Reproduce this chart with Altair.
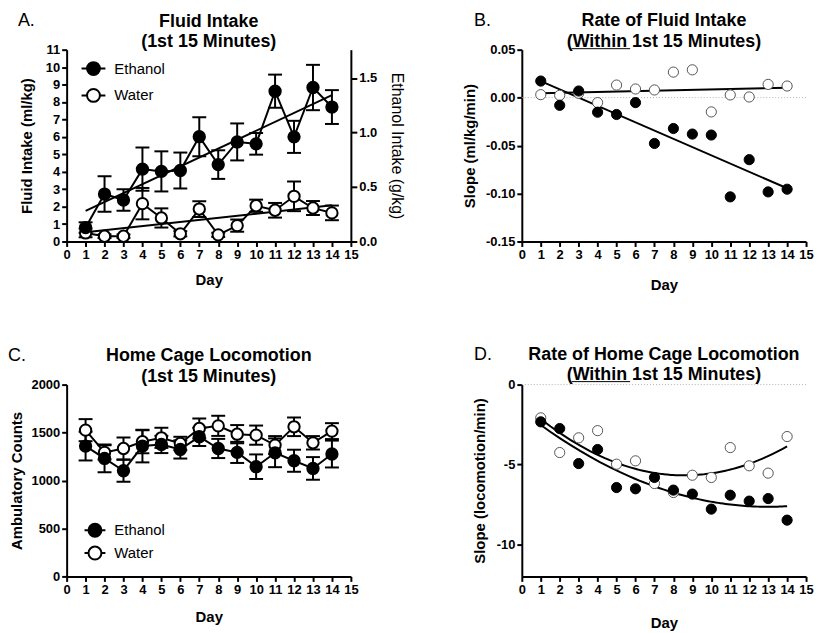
import altair as alt
import pandas as pd

FONT = "Liberation Sans"
W, H = 286, 193

days = list(range(1, 15))

# Panel A: fluid intake (ml/kg), mean and SEM
fi_eth = [0.80, 2.72, 2.38, 4.15, 4.02, 4.07, 6.01, 4.41, 5.71, 5.60, 8.62, 6.00, 8.83, 7.71]
fi_eth_sem = [0.30, 1.02, 0.62, 1.24, 1.15, 1.03, 1.12, 0.82, 1.06, 0.62, 0.95, 0.92, 1.30, 0.97]
fi_wat = [0.49, 0.30, 0.30, 2.17, 1.35, 0.44, 1.86, 0.38, 0.91, 2.05, 1.79, 2.59, 1.92, 1.64]
fi_wat_sem = [0.25, 0.10, 0.10, 0.90, 0.55, 0.15, 0.45, 0.12, 0.35, 0.35, 0.42, 0.85, 0.40, 0.42]

# Panel B: rate of fluid intake (slope, ml/kg/min)
rate_eth = [0.0173, -0.0080, 0.0069, -0.0152, -0.0176, -0.0052, -0.0478, -0.0322,
            -0.0380, -0.0390, -0.1035, -0.0647, -0.0983, -0.0955]
rate_wat = [0.0031, 0.0024, 0.0045, -0.0052, 0.0131, 0.0090, 0.0080, 0.0266,
            0.0290, -0.0149, 0.0028, 0.0007, 0.0138, 0.0121]

# Panel C: home cage locomotion (ambulatory counts), mean and SEM
loc_eth = [1359, 1230, 1102, 1359, 1376, 1324, 1456, 1334, 1293, 1144, 1289, 1206, 1126, 1276]
loc_eth_sem = [150, 145, 115, 170, 90, 95, 95, 100, 110, 128, 150, 115, 118, 140]
loc_wat = [1525, 1293, 1334, 1404, 1445, 1386, 1542, 1570, 1483, 1473, 1369, 1560, 1393, 1515]
loc_wat_sem = [115, 75, 115, 120, 105, 70, 105, 105, 95, 100, 94, 97, 70, 83]

# Panel D: rate of locomotion (slope, locomotion/min)
lr_eth = [-2.33, -2.75, -4.94, -4.06, -6.44, -6.52, -5.81, -6.60, -6.85, -7.79, -6.92, -7.29, -7.13, -8.48]
lr_wat = [-2.08, -4.25, -3.33, -2.88, -4.98, -4.77, -6.19, -6.75, -5.67, -5.81, -3.94, -5.08, -5.54, -3.25]

SERIES = ["Ethanol", "Water"]
ETOH_G_PER_ML = 0.16  # ml/kg of 20% ethanol -> g/kg (right axis of panel A)

titles = {
    "A": ["Fluid Intake", "(1st 15 Minutes)"],
    "B": ["Rate of Fluid Intake", "(Within 1st 15 Minutes)"],
    "C": ["Home Cage Locomotion", "(1st 15 Minutes)"],
    "D": ["Rate of Home Cage Locomotion", "(Within 1st 15 Minutes)"],
}


def long_df(ve, vw, se=None, sw=None):
    rows = []
    for s, v, sem in (("Water", vw, sw), ("Ethanol", ve, se)):
        for i, d in enumerate(days):
            r = {"day": d, "series": s, "val": v[i]}
            if sem is not None:
                r["lo"] = v[i] - sem[i]
                r["hi"] = v[i] + sem[i]
            rows.append(r)
    return pd.DataFrame(rows)


dfA = long_df(fi_eth, fi_wat, fi_eth_sem, fi_wat_sem)
dfB = long_df(rate_eth, rate_wat)
dfC = long_df(loc_eth, loc_wat, loc_eth_sem, loc_wat_sem)
dfD = long_df(lr_eth, lr_wat)


def leg_path(r):
    return (f"M-1,0L-{r},0M{r},0L1,0M-{r},0A{r},{r},0,1,1,{r},0"
            f"A{r},{r},0,1,1,-{r},0Z")


def make_xenc(tp):
    def xenc():
        return alt.X("day:Q", scale=alt.Scale(domain=[0, 15], nice=False),
                     axis=alt.Axis(values=list(range(16)), title="Day", labelFlush=False,
                                   titlePadding=tp))
    return xenc


def text_mark(t, dx, dy, bold=False, align="left"):
    return alt.Chart(alt.Data(values=[{"t": t}])).mark_text(
        align=align, baseline="middle", font=FONT, fontSize=18, color="black",
        fontWeight="bold" if bold else "normal"
    ).encode(x=alt.value(dx), y=alt.value(dy), text="t:N")


def header(key, letter_dx, letter_dy, l1_dy, l2_dy):
    t1, t2 = titles[key]
    return [text_mark(key + ".", letter_dx, letter_dy),
            text_mark(t1, W / 2, l1_dy, bold=True, align="center"),
            text_mark(t2, W / 2, l2_dy, bold=True, align="center")]


def underline(dx1, dx2, dy):
    return alt.Chart(alt.Data(values=[{"u": 1}])).mark_rule(
        color="black", strokeWidth=1
    ).encode(x=alt.value(dx1), x2=alt.value(dx2), y=alt.value(dy))


fill_scale = alt.Scale(domain=SERIES, range=["black", "white"])


def legend(lx, ly, rowpad, sym, r):
    return alt.Legend(title=None, orient="none", legendX=lx, legendY=ly,
                      symbolType=leg_path(r), symbolSize=sym * sym, symbolStrokeWidth=2,
                      symbolStrokeColor="black", labelFont=FONT, labelFontSize=15,
                      labelFontWeight="normal", labelColor="black", labelOffset=8,
                      rowPadding=rowpad, padding=0)


def mean_sem_panel(df, xenc, yscale, yaxis, ytitle, leg, extras, reg=False):
    def y(field):
        return alt.Y(field, scale=yscale, axis=yaxis, title=ytitle)
    base = alt.Chart(df)
    lines = base.mark_line(color="black", strokeWidth=2).encode(
        x=xenc(), y=y("val:Q"), detail="series:N")
    bars = base.mark_rule(color="black", strokeWidth=2).encode(
        x=xenc(), y=y("lo:Q"), y2="hi:Q")
    cap_lo = base.mark_tick(orient="horizontal", size=14, thickness=2, color="black",
                            opacity=1).encode(x=xenc(), y=y("lo:Q"))
    cap_hi = base.mark_tick(orient="horizontal", size=14, thickness=2, color="black",
                            opacity=1).encode(x=xenc(), y=y("hi:Q"))
    layers = [lines, bars, cap_lo, cap_hi]
    if reg:
        layers.append(base.transform_regression("day", "val", groupby=["series"],
                                                extent=[1, 14])
                      .mark_line(color="black", strokeWidth=2)
                      .encode(x=xenc(), y=y("val:Q"), detail="series:N"))
    pts = base.mark_point(shape="circle", filled=True, size=130, stroke="black",
                          strokeWidth=2, opacity=1).encode(
        x=xenc(), y=y("val:Q"),
        fill=alt.Fill("series:N", scale=fill_scale, legend=leg))
    layers.append(pts)
    layers.extend(extras)
    return alt.layer(*layers)


def slope_panel(df, xenc, yscale, yaxis, ytitle, method, extras):
    def y(field):
        return alt.Y(field, scale=yscale, axis=yaxis, title=ytitle)
    base = alt.Chart(df)
    zero = alt.Chart(alt.Data(values=[{"z": 0}])).mark_rule(
        color="#b0b0b0", strokeWidth=1, strokeDash=[1, 2]).encode(y=y("z:Q"))
    if method == "linear":
        rg = base.transform_regression("day", "val", groupby=["series"], extent=[1, 14])
    else:
        rg = base.transform_regression("day", "val", groupby=["series"], extent=[1, 14],
                                       method="poly", order=2)
    regl = rg.mark_line(color="black", strokeWidth=2).encode(
        x=xenc(), y=y("val:Q"), detail="series:N")
    pts = base.mark_point(shape="circle", filled=True, size=105, strokeWidth=1,
                          opacity=1).encode(
        x=xenc(), y=y("val:Q"),
        fill=alt.Fill("series:N", scale=fill_scale, legend=None),
        stroke=alt.Stroke("series:N", scale=alt.Scale(domain=SERIES,
                                                      range=["black", "#555555"]),
                          legend=None))
    return alt.layer(zero, regl, pts, *extras)


# ---- Panel A ----
xA = make_xenc(11)
inner_A = mean_sem_panel(
    dfA, xA, alt.Scale(domain=[0, 11], nice=False),
    alt.Axis(values=list(range(12)), titlePadding=11), "Fluid Intake (ml/kg)",
    legend(14, 6, 3, 24, 0.54), header("A", -49, -29, -28, -8), reg=True)
right_A = alt.Chart(dfA).transform_filter("datum.series == 'Ethanol'").transform_calculate(
    gkg=f"datum.val * {ETOH_G_PER_ML}").mark_point(opacity=0).encode(
    x=xA(),
    y=alt.Y("gkg:Q", scale=alt.Scale(domain=[0, 11 * ETOH_G_PER_ML], nice=False),
            axis=alt.Axis(orient="right", values=[0, 0.5, 1.0, 1.5], format=".1f",
                          tickSize=6, titleFontWeight="normal", titleFontSize=16,
                          titlePadding=12),
            title="Ethanol Intake (g/kg)"))
A = alt.layer(inner_A, right_A).resolve_scale(y="independent").properties(
    width=W, height=H)

# ---- Panel B ----
B = slope_panel(
    dfB, make_xenc(16), alt.Scale(domain=[-0.15, 0.05], nice=False),
    alt.Axis(values=[-0.15, -0.10, -0.05, 0.0, 0.05], format=".2f",
             labelExpr="replace(datum.label, '\u2212', '-')", titlePadding=8),
    "Slope (ml/kg/min)", "linear",
    header("B", -48, -29, -29, -8) + [underline(50, 109, -1)]).properties(
    width=W, height=H)

# ---- Panel C ----
C = mean_sem_panel(
    dfC, make_xenc(13), alt.Scale(domain=[0, 2000], nice=False),
    alt.Axis(values=[0, 500, 1000, 1500, 2000], format="d", titlePadding=6),
    "Ambulatory Counts",
    legend(17, 135, 0, 21, 0.62), header("C", -59, -29, -29, -8), reg=False).properties(
    width=W, height=H)

# ---- Panel D ----
D = slope_panel(
    dfD, make_xenc(19), alt.Scale(domain=[-12, 0], nice=False),
    alt.Axis(values=[-10, -5, 0], format="d",
             labelExpr="replace(datum.label, '\u2212', '-')", titlePadding=9),
    "Slope (locomotion/min)", "poly",
    header("D", -48, -30, -30, -10) + [underline(50, 109, -3)]).properties(
    width=W, height=H)

chart = alt.concat(A, B, C, D, columns=2, spacing={"row": 54, "column": 57}).resolve_scale(
    x="independent", y="independent", fill="independent", stroke="independent"
).resolve_legend(fill="independent", stroke="independent").properties(
    padding={"left": 0, "top": 2, "right": 0, "bottom": 0}
).configure_axis(
    domainColor="black", domainWidth=2, tickColor="black", tickWidth=2, tickSize=5,
    labelFont=FONT, labelFontSize=13, labelFontWeight="bold", labelColor="black",
    labelPadding=2, titleFont=FONT, titleFontSize=15, titleFontWeight="bold",
    titleColor="black", grid=False
).configure_view(stroke=None)

chart.save("out.html", embed_options={"renderer": "svg", "actions": False})
